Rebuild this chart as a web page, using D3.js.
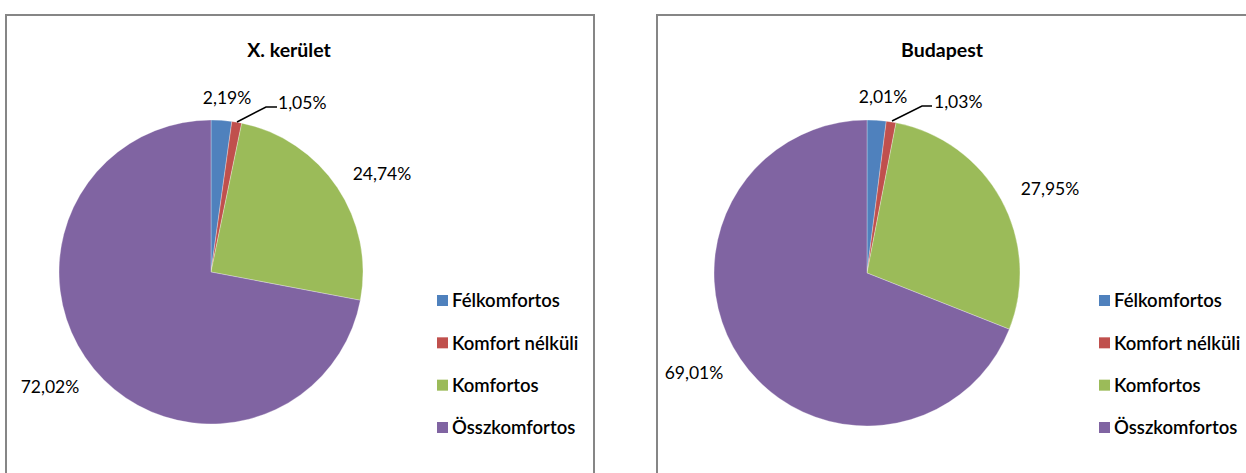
<!DOCTYPE html>
<html><head><meta charset="utf-8">
<script src="https://cdn.jsdelivr.net/npm/d3@7"></script>
<style>body{margin:0;background:#fff}svg{display:block}text{font-family:Lato,"Open Sans",sans-serif}</style>
</head><body>
<svg id="c" width="1246" height="473"></svg>
<script>
const categories = ["Félkomfortos","Komfort nélküli","Komfortos","Összkomfortos"];
const titles = ["X. kerület","Budapest"];
const valuesX = [2.19,1.05,24.74,72.02];
const valuesBp = [2.01,1.03,27.95,69.01];
const colors = ["#4F81BD","#C0504D","#9BBB59","#8064A2"];

const svg = d3.select("#c");
const panels = [
  {x:6, w:588, cx:211, cy:272, r:152, title:titles[0], titleX:289, vals:valuesX,
   labels:[[227,98,"middle"],[278,103,"start"],[382,174,"middle"],[50,387,"middle"]],
   leader:[[237,122],[266,107],[277,107]], legX:437},
  {x:657, w:640, cx:867, cy:273, r:153, title:titles[1], titleX:942, vals:valuesBp,
   labels:[[883,97,"middle"],[934,102,"start"],[1050,189,"middle"],[694,373,"middle"]],
   leader:[[892,121],[922,106],[932,106]], legX:1099}
];
const fmt = v => d3.format(".2f")(v).replace(".", ",") + "%";
const color = d3.scaleOrdinal().domain(categories).range(colors);

panels.forEach(p => {
  const g = svg.append("g");
  g.append("rect").attr("x",p.x).attr("y",15).attr("width",p.w).attr("height",500)
    .attr("fill","#fff").attr("stroke","#868686").attr("stroke-width",2);
  g.append("text").attr("x",p.titleX).attr("y",57).attr("text-anchor","middle")
    .attr("font-size",19.5).attr("font-weight","bold").attr("fill","#000").text(p.title);
  const data = categories.map((c,i)=>({c, v:p.vals[i]}));
  const pie = d3.pie().value(d=>d.v).sort(null);
  const arc = d3.arc().innerRadius(0).outerRadius(p.r);
  g.append("g").attr("transform",`translate(${p.cx},${p.cy})`)
    .selectAll("path").data(pie(data)).join("path")
    .attr("d",arc).attr("fill",d=>color(d.data.c))
    .attr("stroke","#fff").attr("stroke-width",0.3);
  g.append("polyline").attr("points",p.leader.map(q=>q.join(",")).join(" "))
    .attr("fill","none").attr("stroke","#000").attr("stroke-width",1.5);
  data.forEach((d,i)=>{
    const L = p.labels[i];
    g.append("text").attr("x",L[0]).attr("y",L[1]).attr("dy","0.35em")
      .attr("text-anchor",L[2]).attr("font-size",17.5).attr("fill","#000").text(fmt(d.v));
  });
  const ly = d3.scalePoint().domain(categories).range([301,428]);
  const lg = g.append("g");
  categories.forEach(c=>{
    lg.append("rect").attr("x",p.legX).attr("y",ly(c)-6).attr("width",11).attr("height",11)
      .attr("fill",color(c));
    lg.append("text").attr("x",p.legX+15).attr("y",ly(c)).attr("dy","0.35em")
      .attr("font-size",18.5).attr("font-weight","600").attr("fill","#000").text(c);
  });
});
</script>
</body></html>
